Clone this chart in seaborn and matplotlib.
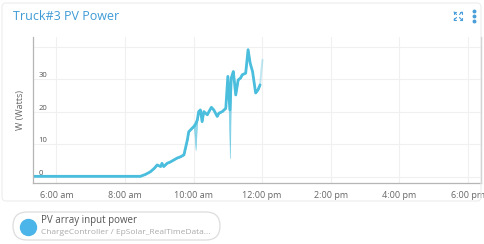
import matplotlib
matplotlib.use("Agg")
import matplotlib.pyplot as plt
from matplotlib.patches import FancyBboxPatch
from matplotlib.lines import Line2D
import seaborn as sns
import pandas as pd

# ---- data ----
hours = [5.32, 6.5, 7.5, 8.45, 8.60, 8.74, 8.85, 8.94, 9.04, 9.08, 9.13, 9.23, 9.32, 9.42,
         9.52, 9.62, 9.72, 9.82, 9.86, 9.96, 10.01, 10.06, 10.11, 10.15, 10.20, 10.25,
         10.30, 10.40, 10.45, 10.52, 10.59, 10.69, 10.74, 10.84, 10.94, 11.00, 11.06,
         11.10, 11.16, 11.23, 11.30, 11.37, 11.42, 11.52, 11.59, 11.65, 11.72, 11.81,
         11.88, 11.94]
watts = [0.2, 0.2, 0.2, 0.2, 0.8, 1.6, 2.6, 3.7, 3.2, 4.2, 3.2, 4.2, 4.6, 5.2,
         5.8, 6.2, 6.8, 11.4, 13.9, 15.0, 15.5, 16.3, 17.5, 20.1, 20.6, 17.0,
         20.1, 19.1, 20.1, 21.4, 20.6, 18.6, 19.6, 20.1, 21.1, 30.9, 20.6,
         30.4, 32.4, 25.2, 29.8, 30.4, 31.4, 31.9, 39.1, 35.0, 32.4, 25.8,
         26.8, 28.3]
low_watts = [w for w in watts]
low_watts[21] = 8.3   # thin dip near 10:04
low_watts[36] = 5.8   # thin dip near 11:04
tail_hours = [11.94, 11.98, 12.01]
tail_watts = [28.3, 33.0, 36.0]

x_ticks = [6, 8, 10, 12, 14, 16, 18]
x_labels = ["6:00 am", "8:00 am", "10:00 am", "12:00 pm", "2:00 pm", "4:00 pm", "6:00 pm"]
y_ticks = [0, 10, 20, 30, 40]
y_labels = ["0", "10", "20", "30", ""]

title = "Truck#3 PV Power"
legend_name = "PV array input power"
legend_sub = "ChargeController / EpSolar_RealTimeData..."

# ---- style ----
sns.set_style("white")
plt.rcParams["font.family"] = ["Open Sans", "DejaVu Sans"]

line_color = "#4BBEDD"
W, H = 484, 244
fig = plt.figure(figsize=(W / 100, H / 100), dpi=100)
fig.patch.set_facecolor("white")
px = fig.dpi_scale_trans  # coordinates in inches; 1 px = 0.01


def P(x, y):
    """pixel (from top-left) -> inches (from bottom-left)"""
    return x / 100, (H - y) / 100


# card outline
card = FancyBboxPatch(P(2, 201), 4.79, 1.98,
                      boxstyle="round,pad=0,rounding_size=0.04",
                      transform=px, facecolor="none",
                      edgecolor="#EDEDED", linewidth=0.8)
fig.add_artist(card)

ax = fig.add_axes([33 / W, 1 - 183 / H, (481 - 33) / W, (183 - 37) / H])
df = pd.DataFrame({"hour": hours, "W": watts, "low": low_watts})
sns.lineplot(data=df, x="hour", y="W", ax=ax, color=line_color, linewidth=2.0)
ax.fill_between(df["hour"], df["low"], df["W"], color=line_color, alpha=0.6, linewidth=0.5)
tail = pd.DataFrame({"hour": tail_hours, "W": tail_watts})
sns.lineplot(data=tail, x="hour", y="W", ax=ax, color=line_color, linewidth=1.4, alpha=0.35)

ax.set_xlim(5.32, 18.38)
ax.set_ylim(-1.85, 43.0)
ax.set_xticks(x_ticks)
ax.set_xticklabels(x_labels)
ax.set_yticks(y_ticks)
ax.set_yticklabels(y_labels)
ax.grid(True, color="#F0F0F0", linewidth=0.8)
ax.set_axisbelow(True)
for s in ["left", "bottom", "right"]:
    ax.spines[s].set_color("#B5B5B5")
    ax.spines[s].set_linewidth(0.9)
ax.spines["top"].set_visible(False)
ax.tick_params(axis="x", length=0, pad=6, labelsize=6.5, labelcolor="#666666")
ax.tick_params(axis="y", direction="in", length=3, width=0.6, color="#B5B5B5",
               pad=-4, labelsize=5.5, labelcolor="#555555")
for lbl in ax.get_yticklabels():
    lbl.set_horizontalalignment("left")
    lbl.set_verticalalignment("bottom")
ax.set_xlabel("")
ax.set_ylabel("W (Watts)", fontsize=6.5, color="#666666", labelpad=6)

# title and icons
fig.text(13 / W, 1 - 16 / H, title, fontsize=9.0, color="#3E9BD6", va="center", ha="left")
icon_c = "#4A9FDB"
cx, cy = 458, 16
for dx, dy in [(-1, -1), (1, -1), (-1, 1), (1, 1)]:
    x0, y0 = cx + dx * 1.5, cy + dy * 1.5
    x1, y1 = cx + dx * 4.0, cy + dy * 4.0
    fig.add_artist(Line2D([x0 / W, x1 / W], [1 - y0 / H, 1 - y1 / H],
                          transform=fig.transFigure, color=icon_c, lw=0.8))
    fig.add_artist(Line2D([x1 / W, (x1 - dx * 2) / W], [1 - y1 / H, 1 - y1 / H],
                          transform=fig.transFigure, color=icon_c, lw=0.8))
    fig.add_artist(Line2D([x1 / W, x1 / W], [1 - y1 / H, 1 - (y1 - dy * 2) / H],
                          transform=fig.transFigure, color=icon_c, lw=0.8))
for yy in [11, 16, 21]:
    fig.add_artist(Line2D([474 / W], [1 - yy / H], transform=fig.transFigure,
                          marker="o", markersize=1.8, color=icon_c, linestyle="none"))

# legend pill
pill = FancyBboxPatch(P(13, 240), 2.07, 0.28,
                      boxstyle="round,pad=0,rounding_size=0.14",
                      transform=px, facecolor="white",
                      edgecolor="#DDDDDD", linewidth=0.9)
fig.add_artist(pill)
fig.add_artist(Line2D([28 / W], [1 - 227 / H], transform=fig.transFigure,
                      marker="o", markersize=11.5, color="#4BB4E8", linestyle="none"))
fig.text(41 / W, 1 - 221 / H, legend_name, fontsize=7.0, color="#555555", va="center")
fig.text(41 / W, 1 - 232 / H, legend_sub, fontsize=6.0, color="#AAAAAA", va="center")

fig.savefig("out.png", dpi=100)
